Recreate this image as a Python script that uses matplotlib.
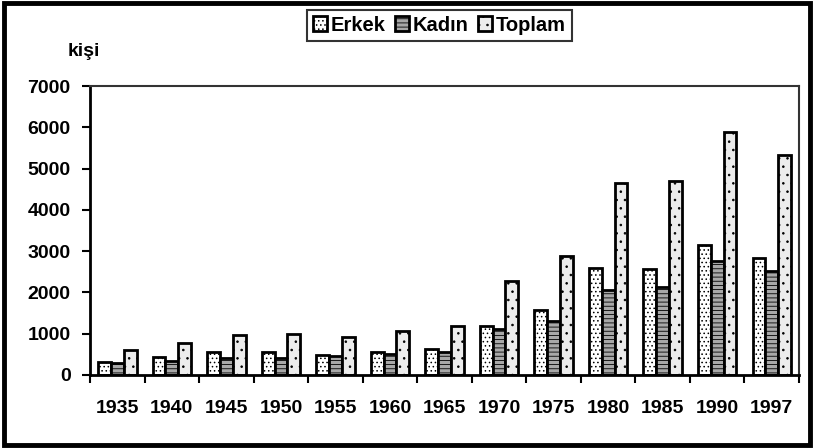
import matplotlib
matplotlib.use("Agg")
import matplotlib.pyplot as plt
from matplotlib.patches import Rectangle
import numpy as np

plt.rcParams['font.family'] = ['Liberation Sans', 'DejaVu Sans']
plt.rcParams['font.weight'] = 'bold'
plt.rcParams['hatch.linewidth'] = 0.6

years = ["1935", "1940", "1945", "1950", "1955", "1960", "1965",
         "1970", "1975", "1980", "1985", "1990", "1997"]
erkek = [310, 445, 550, 565, 490, 565, 640, 1175, 1570, 2600, 2565, 3150, 2840]
kadin = [300, 340, 405, 420, 470, 520, 550, 1120, 1315, 2070, 2140, 2765, 2515]
toplam = [610, 785, 960, 1000, 925, 1055, 1175, 2280, 2890, 4655, 4690, 5890, 5340]

fig = plt.figure(figsize=(8.14, 4.48), dpi=100)
ax = fig.add_axes([0.1106, 0.163, 0.8710, 0.645])

x = np.arange(len(years))
w = 0.235
bars_e = ax.bar(x - w, erkek, w, facecolor='white', edgecolor='black', linewidth=2,
                hatch='....', label='Erkek')
bars_k = ax.bar(x, kadin, w, facecolor='#a8a8a8', edgecolor='black', linewidth=2,
                hatch='----', label='Kadın')
bars_t = ax.bar(x + w, toplam, w, facecolor='#ececec', edgecolor='black', linewidth=2,
                hatch='..', label='Toplam')

ax.set_xlim(-0.5, len(years) - 0.5)
ax.set_ylim(0, 7000)
ax.set_yticks(np.arange(0, 7001, 1000))
ax.set_xticks(x)
ax.set_xticklabels(years)
ax.set_xticks(np.arange(-0.5, len(years), 1.0), minor=True)
ax.tick_params(axis='x', which='major', length=0, pad=18, labelsize=14)
ax.tick_params(axis='x', which='minor', length=6, width=1.5, direction='out')
ax.tick_params(axis='y', which='major', length=6, width=1.5, pad=8, labelsize=14)
for s in ['left', 'bottom']:
    ax.spines[s].set_linewidth(2)
for s in ['top', 'right']:
    ax.spines[s].set_linewidth(1.5)
    ax.spines[s].set_color('#333333')

fig.text(0.0835, 0.884, 'kişi', fontsize=14, fontweight='bold', ha='left', va='center')

leg = fig.legend(handles=[bars_e, bars_k, bars_t], loc='center', bbox_to_anchor=(0.540, 0.944),
                 ncol=3, frameon=True, fancybox=False, edgecolor='black',
                 handlelength=0.7, handleheight=0.7, handletextpad=0.2, columnspacing=0.45,
                 borderpad=0.3, prop={'size': 14.5, 'weight': 'bold'})
leg.get_frame().set_linewidth(1.5)

fig.patches.append(Rectangle((0.005, 0.006), 0.99, 0.988, transform=fig.transFigure,
                             fill=False, edgecolor='black', linewidth=3.5))

fig.savefig('out.png', dpi=100)
